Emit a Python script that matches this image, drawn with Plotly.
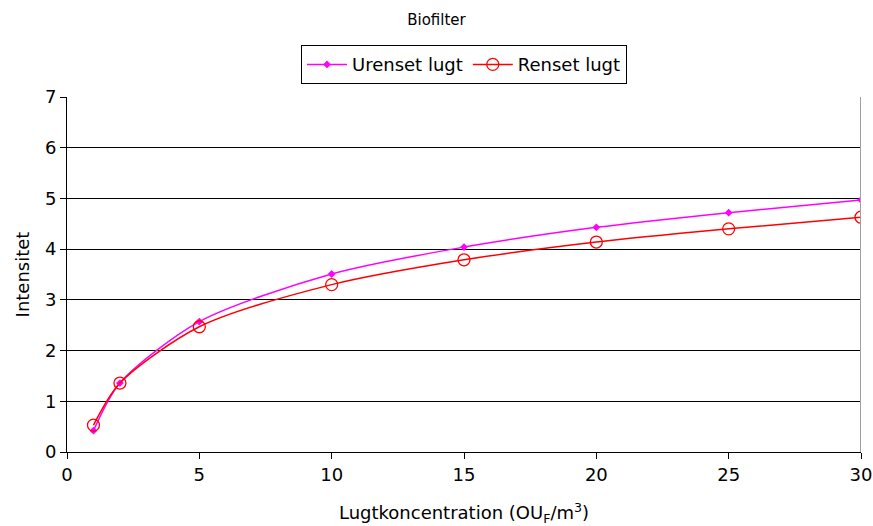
import plotly.graph_objects as go

conc = [1, 2, 5, 10, 15, 20, 25, 30]
urenset = [0.42, 1.36, 2.57, 3.51, 4.04, 4.43, 4.72, 4.97]
renset = [0.53, 1.36, 2.47, 3.30, 3.79, 4.14, 4.40, 4.63]

FONT = "DejaVu Sans"

fig = go.Figure()
fig.add_trace(go.Scatter(
    x=conc, y=urenset, name="Urenset lugt", mode="lines+markers",
    line=dict(color="#FF00FF", width=1.5, shape="spline", smoothing=0.8),
    marker=dict(symbol="diamond", size=6, color="#FF00FF"),
))
fig.add_trace(go.Scatter(
    x=conc, y=renset, name="Renset lugt", mode="lines+markers",
    line=dict(color="#FF0000", width=1.5, shape="spline", smoothing=0.8),
    marker=dict(symbol="circle-open", size=12, color="#FF0000", line=dict(width=1.3)),
))

fig.add_shape(type="line", xref="x", yref="y", x0=30, x1=30, y0=0, y1=7,
              line=dict(color="#A0A0A0", width=2))

fig.update_layout(
    width=873, height=526,
    margin=dict(l=67, r=12, t=97, b=74, autoexpand=False),
    paper_bgcolor="white", plot_bgcolor="white",
    font=dict(family=FONT, size=18, color="black"),
    title=dict(text="Biofilter", x=0.5, xanchor="center", y=0.962, yanchor="middle",
               font=dict(family=FONT, size=15, color="black")),
    showlegend=True,
    legend=dict(orientation="h", x=0.5, xanchor="center", yref="container", y=0.877,
                yanchor="middle",
                bordercolor="black", borderwidth=1, bgcolor="white",
                font=dict(family=FONT, size=18), itemwidth=40,
                tracegroupgap=0),
    xaxis=dict(range=[0, 30], tickvals=[0, 5, 10, 15, 20, 25, 30],
               showgrid=False, showline=True, linecolor="black", linewidth=1,
               ticks="outside", ticklen=6, tickcolor="black", zeroline=False,
               automargin=False,
               title=dict(text="Lugtkoncentration (OU<sub>F</sub>/m<sup>3</sup>)",
                          font=dict(size=18), standoff=24),
               tickfont=dict(size=18)),
    yaxis=dict(range=[0, 7], tickvals=[0, 1, 2, 3, 4, 5, 6, 7],
               showgrid=True, gridcolor="black", gridwidth=1,
               showline=True, linecolor="black", linewidth=1,
               ticks="outside", ticklen=6, tickcolor="black", zeroline=False,
               automargin=False,
               title=dict(text="Intensitet", font=dict(size=18), standoff=10),
               tickfont=dict(size=18)),
)

fig.write_html("out.html")
